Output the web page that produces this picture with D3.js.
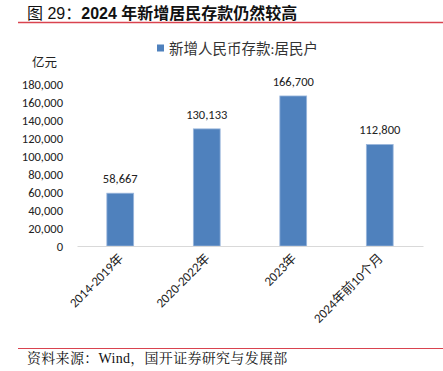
<!DOCTYPE html>
<html>
<head>
<meta charset="utf-8">
<script src="https://cdn.jsdelivr.net/npm/d3@7"></script>
<style>
  body { margin: 0; background: #fff; }
  svg { display: block; }
</style>
</head>
<body>
<svg id="chart"></svg>
<script>
const categories = ["2014-2019年", "2020-2022年", "2023年", "2024年前10个月"];
const deposits = [58667, 130133, 166700, 112800];
const yTicks = [0, 20000, 40000, 60000, 80000, 100000, 120000, 140000, 160000, 180000];
const seriesName = "新增人民币存款:居民户";

const W = 443, H = 371;
const margin = { top: 84, right: 20, bottom: 125, left: 77 };
const width = W - margin.left - margin.right;
const height = 246 - margin.top;

const sans = "Calibri, Carlito, 'Noto Sans CJK SC', sans-serif";

const svg = d3.select("#chart").attr("width", W).attr("height", H);

// title: "图 29：" regular, rest bold
const title = svg.append("text")
    .attr("x", 27).attr("y", 19)
    .style("font-family", "Arial, 'Liberation Sans', 'Noto Sans CJK SC', sans-serif")
    .style("font-size", "16px").attr("fill", "#111");
title.append("tspan").text("图 29：");
title.append("tspan").style("font-weight", "bold").text("2024 年新增居民存款仍然较高");
svg.append("line")
    .attr("x1", 18).attr("x2", W).attr("y1", 22.5).attr("y2", 22.5)
    .attr("stroke", "#d9434f").attr("stroke-width", 1.5);

const g = svg.append("g").attr("transform", `translate(${margin.left},${margin.top})`);

const x = d3.scaleBand().domain(categories).range([0, width]).paddingInner(0.69).paddingOuter(0.345);
const y = d3.scaleLinear().domain([0, 180000]).range([height, 0]);

// y axis labels
const yAxis = d3.axisLeft(y).tickValues(yTicks).tickSize(0).tickPadding(14)
    .tickFormat(d3.format(","));
g.append("g").call(yAxis)
    .call(s => s.select(".domain").remove())
    .selectAll("text")
    .style("font-family", sans).style("font-size", "12.5px").attr("fill", "#222");

svg.append("text").attr("x", 32).attr("y", 67)
    .style("font-family", sans).style("font-size", "12.5px").attr("fill", "#222")
    .text("亿元");

// bars
g.selectAll(".bar").data(deposits).enter().append("rect")
    .attr("class", "bar")
    .attr("x", (d, i) => x(categories[i]))
    .attr("y", d => y(d))
    .attr("width", x.bandwidth())
    .attr("height", d => height - y(d))
    .attr("fill", "#4f81bd")
    .attr("stroke", "#9bb7dc").attr("stroke-width", 0.8);

// value labels
g.selectAll(".val").data(deposits).enter().append("text")
    .attr("x", (d, i) => x(categories[i]) + x.bandwidth() / 2)
    .attr("y", d => y(d) - 10)
    .attr("text-anchor", "middle")
    .style("font-family", sans).style("font-size", "12.5px").attr("fill", "#222")
    .text(d3.format(","));

// x axis
const xAxis = d3.axisBottom(x).tickSize(0).tickPadding(0);
const xg = g.append("g").attr("transform", `translate(0,${height})`).call(xAxis);
xg.select(".domain").attr("stroke", "#d9d9d9").attr("stroke-width", 1.2);
xg.selectAll("text")
    .attr("y", 0).attr("dy", 0)
    .attr("transform", "translate(4,13) rotate(-45)")
    .style("text-anchor", "end")
    .style("font-family", sans).style("font-size", "13px").attr("fill", "#222");

// legend
const lg = svg.append("g").attr("transform", "translate(157,48)");
lg.append("rect").attr("x", 0).attr("y", -3.5).attr("width", 7).attr("height", 7).attr("fill", "#4f81bd");
lg.append("text").attr("x", 12).attr("y", 5.5)
    .style("font-family", sans).style("font-size", "14.5px").attr("fill", "#333")
    .text(seriesName);

// source
svg.append("line")
    .attr("x1", 18).attr("x2", W).attr("y1", 348.5).attr("y2", 348.5)
    .attr("stroke", "#d9434f").attr("stroke-width", 1.2);
svg.append("text").attr("x", 27).attr("y", 363)
    .style("font-family", "'Liberation Serif', 'Noto Serif CJK SC', 'Noto Sans CJK SC', serif")
    .style("font-size", "14px").style("letter-spacing", "0.3px").attr("fill", "#111")
    .text("资料来源：Wind，国开证券研究与发展部");
</script>
</body>
</html>
